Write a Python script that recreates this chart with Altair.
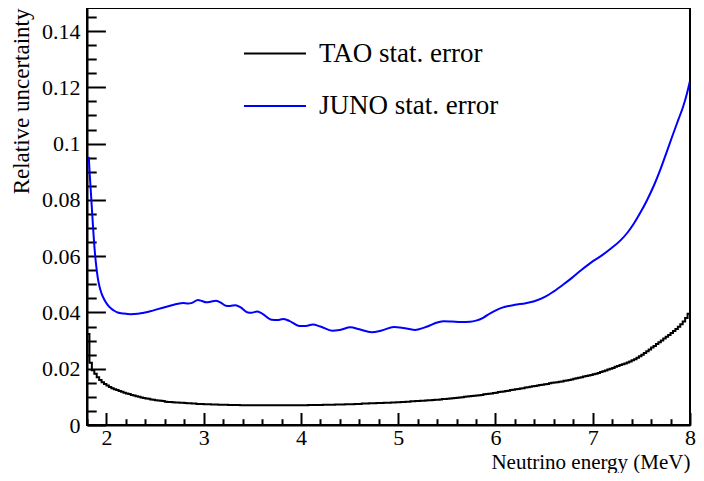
import altair as alt
import pandas as pd

# ---------------- data ----------------
x_tick_values = [1.8, 2.0, 2.2, 2.4, 2.6, 2.8, 3.0, 3.2, 3.4, 3.6, 3.8, 4.0, 4.2, 4.4,
                 4.6, 4.8, 5.0, 5.2, 5.4, 5.6, 5.8, 6.0, 6.2, 6.4, 6.6, 6.8, 7.0,
                 7.2, 7.4, 7.6, 7.8, 8.0]
y_tick_values = [round(0.005 * i, 3) for i in range(30)]  # 0 ... 0.145

series_names = ["TAO stat. error", "JUNO stat. error"]
series_colors = ["#000000", "#0000ff"]

# TAO statistical error: histogram, bins of 0.025 MeV from 1.8 to 8.0 MeV
tao_bin_start = 1.8
tao_bin_width = 0.025
tao_values = [
    0.0323, 0.0221, 0.0195, 0.0182, 0.0170, 0.0160, 0.0152, 0.0146,
    0.0140, 0.0135, 0.0131, 0.0127, 0.0124, 0.0121, 0.0118, 0.0115,
    0.0112, 0.0110, 0.0107, 0.0105, 0.0102, 0.0100, 0.0098, 0.0096,
    0.0094, 0.0093, 0.0091, 0.0090, 0.0088, 0.0087, 0.0086, 0.0085,
    0.0083, 0.0082, 0.0082, 0.0081, 0.0080, 0.0080, 0.0079, 0.0079,
    0.0078, 0.0077, 0.0077, 0.0076, 0.0076, 0.0075, 0.0075, 0.0075,
    0.0074, 0.0074, 0.0074, 0.0073, 0.0073, 0.0073, 0.0072, 0.0072,
    0.0072, 0.0072, 0.0071, 0.0071, 0.0071, 0.0071, 0.0071, 0.0070,
    0.0070, 0.0070, 0.0070, 0.0070, 0.0070, 0.0070, 0.0070, 0.0070,
    0.0070, 0.0070, 0.0070, 0.0070, 0.0070, 0.0070, 0.0070, 0.0070,
    0.0070, 0.0070, 0.0070, 0.0070, 0.0070, 0.0070, 0.0070, 0.0070,
    0.0070, 0.0070, 0.0070, 0.0071, 0.0071, 0.0071, 0.0071, 0.0071,
    0.0071, 0.0072, 0.0072, 0.0072, 0.0072, 0.0072, 0.0073, 0.0073,
    0.0073, 0.0073, 0.0074, 0.0074, 0.0074, 0.0074, 0.0075, 0.0075,
    0.0075, 0.0076, 0.0076, 0.0076, 0.0077, 0.0077, 0.0077, 0.0078,
    0.0078, 0.0078, 0.0079, 0.0079, 0.0079, 0.0080, 0.0080, 0.0081,
    0.0081, 0.0082, 0.0082, 0.0083, 0.0083, 0.0084, 0.0084, 0.0085,
    0.0085, 0.0086, 0.0086, 0.0087, 0.0088, 0.0088, 0.0089, 0.0090,
    0.0090, 0.0091, 0.0092, 0.0092, 0.0093, 0.0094, 0.0095, 0.0096,
    0.0097, 0.0098, 0.0099, 0.0100, 0.0101, 0.0102, 0.0103, 0.0104,
    0.0105, 0.0106, 0.0107, 0.0109, 0.0110, 0.0111, 0.0112, 0.0114,
    0.0115, 0.0117, 0.0118, 0.0119, 0.0121, 0.0122, 0.0124, 0.0125,
    0.0127, 0.0128, 0.0130, 0.0131, 0.0133, 0.0134, 0.0136, 0.0138,
    0.0139, 0.0140, 0.0142, 0.0143, 0.0145, 0.0146, 0.0148, 0.0150,
    0.0151, 0.0152, 0.0154, 0.0155, 0.0157, 0.0158, 0.0160, 0.0162,
    0.0164, 0.0166, 0.0168, 0.0170, 0.0172, 0.0174, 0.0176, 0.0178,
    0.0180, 0.0182, 0.0185, 0.0188, 0.0191, 0.0194, 0.0197, 0.0200,
    0.0203, 0.0207, 0.0210, 0.0213, 0.0216, 0.0219, 0.0222, 0.0226,
    0.0230, 0.0234, 0.0239, 0.0244, 0.0250, 0.0256, 0.0262, 0.0268,
    0.0275, 0.0281, 0.0288, 0.0294, 0.0300, 0.0307, 0.0314, 0.0320,
    0.0327, 0.0334, 0.0341, 0.0349, 0.0358, 0.0368, 0.0380, 0.0395,
]

# JUNO statistical error: smooth curve
juno_energy = [
    1.818, 1.83, 1.845, 1.862, 1.879, 1.896, 1.91, 1.929, 1.95, 1.98, 2.01, 2.048,
    2.08, 2.115, 2.18, 2.25, 2.32, 2.384, 2.45, 2.519, 2.58, 2.654, 2.72, 2.789,
    2.839, 2.88, 2.94, 2.98, 3.025, 3.07, 3.125, 3.17, 3.227, 3.27, 3.328, 3.38,
    3.446, 3.49, 3.547, 3.60, 3.70, 3.76, 3.817, 3.88, 3.985, 4.05, 4.12, 4.20,
    4.323, 4.40, 4.508, 4.60, 4.727, 4.83, 4.955, 5.05, 5.17, 5.30, 5.40, 5.468,
    5.55, 5.65, 5.738, 5.80, 5.873, 5.95, 6.03, 6.10, 6.20, 6.311, 6.40, 6.513,
    6.60, 6.70, 6.783, 6.88, 6.985, 7.083, 7.187, 7.288, 7.36, 7.423, 7.49, 7.558,
    7.63, 7.693, 7.76, 7.828, 7.88, 7.929, 7.97, 8.00,
]
juno_values = [
    0.0953, 0.0880, 0.0799, 0.0704, 0.0622, 0.0562, 0.0525, 0.0491, 0.0467, 0.0444, 0.0428, 0.0414,
    0.0406, 0.0400, 0.0396, 0.0394, 0.0395, 0.0399, 0.0404, 0.0411, 0.0417, 0.0424, 0.0430, 0.0434,
    0.0432, 0.0434, 0.0444, 0.0441, 0.0436, 0.0438, 0.0442, 0.0436, 0.0424, 0.0423, 0.0426, 0.0418,
    0.0401, 0.0399, 0.0403, 0.0396, 0.0374, 0.0373, 0.0377, 0.0370, 0.0352, 0.0352, 0.0357, 0.0350,
    0.0335, 0.0338, 0.0347, 0.0340, 0.0330, 0.0336, 0.0348, 0.0345, 0.0338, 0.0350, 0.0364, 0.0369,
    0.0368, 0.0366, 0.0367, 0.0371, 0.0381, 0.0398, 0.0412, 0.0420, 0.0427, 0.0433, 0.0440, 0.0456,
    0.0475, 0.0500, 0.0522, 0.0550, 0.0578, 0.0600, 0.0627, 0.0657, 0.0685, 0.0716, 0.0755, 0.0799,
    0.0852, 0.0906, 0.0970, 0.1036, 0.1085, 0.1131, 0.1180, 0.1223,
]

# ---------------- tables ----------------
tao_edges = [round(tao_bin_start + tao_bin_width * i, 4) for i in range(len(tao_values))]
tao_df = pd.DataFrame({
    "energy": tao_edges + [8.0],
    "value": tao_values + [tao_values[-1]],
    "series": series_names[0],
})
juno_df = pd.DataFrame({
    "energy": juno_energy,
    "value": juno_values,
    "series": series_names[1],
})

FONT = "Liberation Serif"
PLOT_W = 603
PLOT_H = 417

x_enc = alt.X(
    "energy:Q",
    scale=alt.Scale(domain=[1.8, 8.0], nice=False, zero=False),
    axis=alt.Axis(
        values=x_tick_values,
        title="Neutrino energy (MeV)",
        tickSize={"expr": "-12.5"},
        tickDash={"condition": {"test": "abs(datum.value - round(datum.value)) > 0.01",
                                "value": [6.3, 40]}, "value": []},
        labelExpr="abs(datum.value - round(datum.value)) < 0.01 ? format(round(datum.value), 'd') : ''",
        labelBaseline="alphabetic",
        labelAlign="center",
        labelPadding=31.5,
        labelFlush=False,
        labelOverlap=False,
        labelBound=False,
        titleAnchor="end",
        titleAlign="right",
        titleBaseline="alphabetic",
        titleX=PLOT_W,
        titleY=43,
        titleFontSize=21,
        grid=False,
    ),
)
y_enc = alt.Y(
    "value:Q",
    scale=alt.Scale(domain=[0, 0.1482], nice=False, zero=True),
    axis=alt.Axis(
        values=y_tick_values,
        title="Relative uncertainty",
        tickSize={"expr": "-18.4"},
        tickDash={"condition": {"test": "abs(datum.value * 50 - round(datum.value * 50)) > 0.01",
                                "value": [9.2, 40]}, "value": []},
        labelExpr="abs(datum.value * 50 - round(datum.value * 50)) < 0.01 ? format(datum.value, '~g') : ''",
        labelAlign="right",
        labelBaseline="middle",
        labelPadding=25.4,
        labelFlush=False,
        labelOverlap=False,
        labelBound=False,
        titleAngle=-90,
        titleAnchor="end",
        titleAlign="right",
        titleBaseline="alphabetic",
        titleX=-59,
        titleY=0,
        grid=False,
    ),
)
color_enc = alt.Color(
    "series:N",
    scale=alt.Scale(domain=series_names, range=series_colors),
    legend=alt.Legend(
        title=None,
        orient="none",
        legendX=156,
        legendY=29,
        direction="vertical",
        symbolType="M-1,0H3",
        symbolSize=961,
        symbolStrokeWidth=2,
        symbolFillColor="transparent",
        labelFont=FONT,
        labelFontSize=27,
        labelColor="black",
        labelLimit=0,
        labelOffset=43,
        rowPadding=22.4,
        padding=0,
    ),
)

tao = alt.Chart(tao_df).mark_line(
    interpolate="step-after", strokeWidth=2, clip=True, strokeJoin="miter"
).encode(x=x_enc, y=y_enc, color=color_enc)

juno = alt.Chart(juno_df).mark_line(
    interpolate="monotone", strokeWidth=2, clip=True
).encode(x=x_enc, y=y_enc, color=color_enc)

chart = alt.layer(tao, juno).properties(
    width=PLOT_W,
    height=PLOT_H,
    autosize=alt.AutoSizeParams(type="none"),
    padding={"left": 79, "top": 0, "right": 6, "bottom": 48},
    background="white",
).configure_view(
    stroke="black", strokeWidth=2
).configure_axis(
    domainColor="black",
    domainWidth=2,
    tickColor="black",
    tickWidth=2,
    labelFont=FONT,
    labelFontSize=22,
    labelColor="black",
    titleFont=FONT,
    titleFontSize=23,
    titleFontWeight="normal",
    titleColor="black",
)

chart.save("out.html", embed_options={"renderer": "svg", "actions": False})
